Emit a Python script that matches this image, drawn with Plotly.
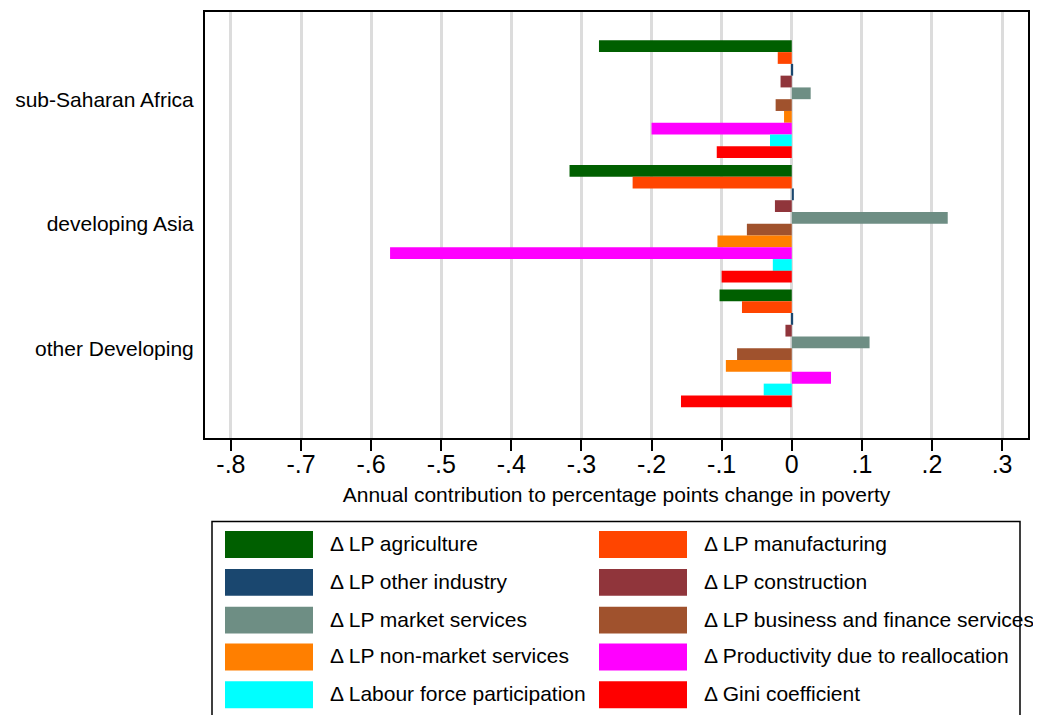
import plotly.graph_objects as go

# regions (top to bottom)
regions = ["sub-Saharan Africa", "developing Asia", "other Developing"]

# components, in plotting order
components = [
    "Δ LP agriculture",
    "Δ LP manufacturing",
    "Δ LP other industry",
    "Δ LP construction",
    "Δ LP market services",
    "Δ LP business and finance services",
    "Δ LP non-market services",
    "Δ Productivity due to reallocation",
    "Δ Labour force participation",
    "Δ Gini coefficient",
]

colors = [
    "#005f00", "#ff4500", "#1a476f", "#90353b", "#6e8e84",
    "#a0522d", "#ff7f00", "#ff00ff", "#00ffff", "#ff0000",
]

# values per component: [SSA, Asia, other]
agriculture = [-0.275, -0.317, -0.103]
manufacturing = [-0.020, -0.227, -0.071]
other_industry = [0.002, 0.003, 0.002]
construction = [-0.016, -0.024, -0.009]
market_services = [0.027, 0.2225, 0.111]
business_finance = [-0.023, -0.064, -0.078]
non_market = [-0.011, -0.106, -0.094]
reallocation = [-0.200, -0.573, 0.056]
labour_force = [-0.031, -0.027, -0.040]
gini = [-0.107, -0.100, -0.158]

series = [agriculture, manufacturing, other_industry, construction, market_services,
          business_finance, non_market, reallocation, labour_force, gini]

tick_vals = [-0.8, -0.7, -0.6, -0.5, -0.4, -0.3, -0.2, -0.1, 0, 0.1, 0.2, 0.3]
tick_text = ["-.8", "-.7", "-.6", "-.5", "-.4", "-.3", "-.2", "-.1", "0", ".1", ".2", ".3"]

FONT = "Liberation Sans, Arial, sans-serif"
OFF = 8  # page body margin
W, H = 1041 - OFF, 715 - OFF
L, R, T, B = 205 - OFF, 1028 - OFF, 10 - OFF, 438 - OFF


def px(x):
    # page pixel -> paper x
    return (x - OFF - L) / (R - L)


def py(y):
    # page pixel -> paper y
    return (B - (y - OFF)) / (B - T)


fig = go.Figure()
for name, vals, col in zip(components, series, colors):
    fig.add_trace(go.Bar(
        y=regions, x=vals, name=name, orientation="h",
        marker=dict(color=col, line=dict(width=0)),
        showlegend=False,
    ))

# custom legend box (two columns)
shapes = [dict(type="rect", xref="paper", yref="paper",
               x0=px(212), x1=px(1020), y0=py(522), y1=py(740),
               line=dict(color="black", width=1.5), fillcolor="rgba(0,0,0,0)")]
annotations = []
col_x = [225, 599]
row_y = [545, 583, 621, 658, 696]
for i, (name, col) in enumerate(zip(components, colors)):
    cx = col_x[i % 2]
    cy = row_y[i // 2]
    shapes.append(dict(type="rect", xref="paper", yref="paper",
                       x0=px(cx), x1=px(cx + 88), y0=py(cy + 13.5), y1=py(cy - 13.5),
                       line=dict(width=0), fillcolor=col))
    annotations.append(dict(xref="paper", yref="paper", x=px(cx + 103), y=py(cy - 1),
                            text=name, showarrow=False, xanchor="left", yanchor="middle",
                            font=dict(size=21, color="black", family=FONT)))

fig.update_layout(
    width=W, height=H,
    margin=dict(l=L, r=W - R, t=T, b=H - B),
    plot_bgcolor="white", paper_bgcolor="white",
    barmode="group", bargap=0.055, bargroupgap=0,
    font=dict(family=FONT, color="black"),
    shapes=shapes, annotations=annotations,
    xaxis=dict(
        range=[-0.837, 0.337],
        tickvals=tick_vals, ticktext=tick_text,
        tickfont=dict(size=25), ticklabelstandoff=-8,
        ticks="outside", ticklen=11, tickwidth=1.5, tickcolor="black",
        showgrid=True, gridcolor="#dcdcdc", gridwidth=3,
        zeroline=False,
        showline=True, linecolor="black", linewidth=2, mirror=True,
        title=dict(text="Annual contribution to percentage points change in poverty",
                   font=dict(size=21), standoff=10),
    ),
    yaxis=dict(
        type="category", categoryarray=regions,
        range=[2.72, -0.70],
        tickfont=dict(size=21), ticklabelstandoff=5,
        ticks="", showgrid=False, zeroline=False,
        showline=True, linecolor="black", linewidth=2, mirror=True,
    ),
)

fig.write_html("out.html")
